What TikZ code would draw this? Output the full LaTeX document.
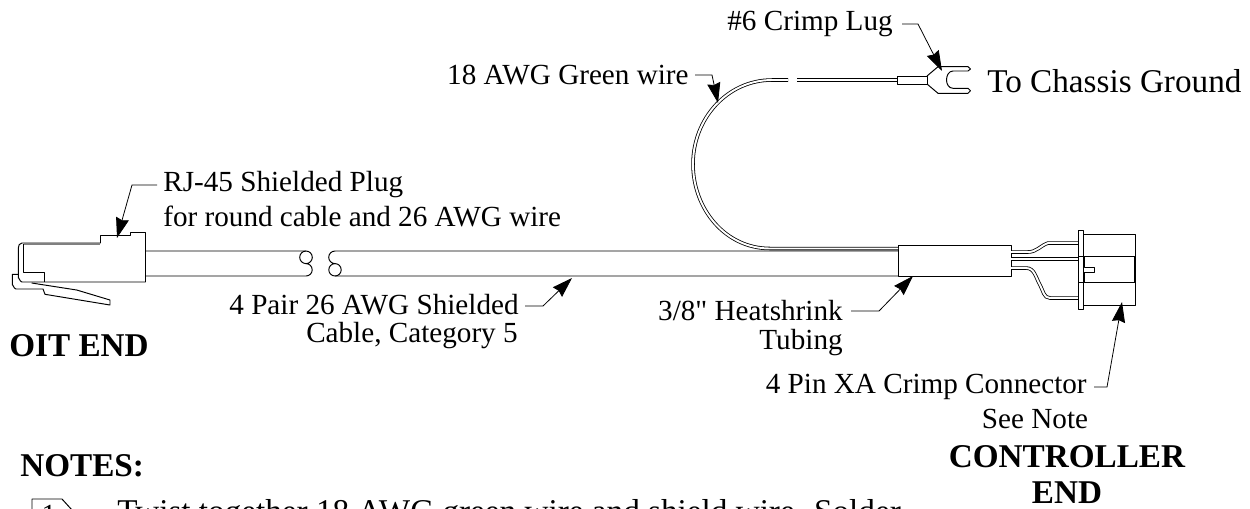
\documentclass[tikz,border=0pt]{standalone}
\usepackage{tikz}
\usepackage{fontspec}
\setmainfont{Liberation Serif}[Ligatures=TeXOff]
\usetikzlibrary{arrows.meta}

\tikzset{
    part/.style={draw, line width=0.55pt, line join=round},
    wirepair/.style={draw, line width=0.45pt, double, double distance=1.1pt},
    leader/.style={draw, line width=0.45pt, -{Stealth[length=11.5pt, width=7.5pt, inset=1pt]}},
    lbl/.style={inner sep=0pt, font=\fontsize{16.6pt}{18pt}\selectfont},
    biglbl/.style={inner sep=0pt, font=\fontsize{18.9pt}{20pt}\selectfont},
    bigtitle/.style={inner sep=0pt, font=\fontsize{18.9pt}{20pt}\selectfont\bfseries}
}

\begin{document}
\begin{tikzpicture}[x=0.02cm, y=-0.02cm]
        \useasboundingbox (0, 0) rectangle (1250, 508);
        \clip (0, 0) rectangle (1250, 508);

        % labels
        \node[lbl, anchor=east] (lug) at (893, 24) {\#6 Crimp Lug};
        \node[biglbl, anchor=west] (chassis) at (987, 81) {To Chassis Ground};
        \node[lbl, anchor=east] (green) at (689, 75) {18 AWG Green wire};
        \node[lbl, anchor=west] (plug) at (163, 185) {RJ-45 Shielded Plug};
        \node[lbl, anchor=west] (plugb) at (163, 216) {for round cable and 26 AWG wire};
        \node[lbl, anchor=east] (pair) at (519, 305) {4 Pair 26 AWG Shielded};
        \node[lbl, anchor=east] (cat) at (518, 336) {Cable, Category 5};
        \node[lbl, anchor=east] (shrink) at (843, 311) {3/8" Heatshrink};
        \node[lbl, anchor=east] (tubing) at (843, 343) {Tubing};
        \node[lbl, anchor=east] (xa) at (1087, 387) {4 Pin XA Crimp Connector};
        \node[lbl] (note) at (1035, 419) {See Note};
        \node[bigtitle, anchor=west] (oit) at (9, 346) {OIT END};
        \node[bigtitle, anchor=west] (notes) at (20, 466) {NOTES:};
        \node[bigtitle] (ctrl) at (1067, 457) {CONTROLLER};
        \node[bigtitle] (ctrlb) at (1067, 493) {END};
        \node[biglbl, anchor=base west] (twist) at (117, 522) {Twist together 18 AWG green wire and shield wire. Solder};

        % plug
        \draw[part] (22, 243) -- (100.5, 243) -- (100.5, 235.5) -- (130.5, 235.5) -- (130.5, 232.5)
            -- (145.5, 232.5) -- (145.5, 282) -- (22, 282)
            to[out=180, in=90] (18.3, 278) -- (18.3, 248) to[out=90, in=180] (22, 243);
        \draw[draw=gray, line width=1.1pt] (23.5, 244) -- (100, 244);
        \draw[part] (23.5, 244) -- (23.5, 272) -- (44.3, 272) -- (44.3, 282);
        \draw[part] (18.3, 274.3) -- (12.3, 274.3) -- (12.3, 285) to[out=90, in=180] (16, 289)
            -- (43, 289) -- (45, 294.3) -- (110, 305) -- (110, 300) -- (76.7, 290) -- (31.7, 283);

        % cable, left of the break
        \draw[part] (145.5, 251) -- (306, 251) arc[start angle=-90, end angle=90, radius=6.3]
            arc[start angle=-90, end angle=90, radius=6.2] -- (145.5, 276);
        \draw[part] (306, 263.6) arc[start angle=90, end angle=270, radius=6.3];

        % cable, right of the break
        \draw[part] (898, 251) -- (335, 251) arc[start angle=-90, end angle=-270, radius=6.3]
            arc[start angle=-90, end angle=-270, radius=6.2] -- (898, 276);
        \draw[part] (335, 263.6) arc[start angle=-90, end angle=90, radius=6.2];

        % heatshrink
        \draw[part] (898, 245) rectangle (1011, 276);

        % green wire
        \draw[wirepair] (898, 248.5) -- (770, 248.5) to[out=180, in=-90] (693, 164)
            to[out=90, in=180] (772, 80) -- (788, 80);
        \draw[wirepair] (797, 80) -- (897, 80);

        % lug
        \draw[part, fill=white] (897, 76.5) rectangle (927, 84);
        \draw[part] (927, 76) -- (938, 66.7) -- (968, 66.7) -- (970.5, 69) -- (968, 71) -- (953, 71)
            to[out=180, in=90] (946.5, 80) to[out=-90, in=180] (953, 88.3) -- (968, 88.3)
            -- (970.5, 90.7) -- (968, 93.3) -- (938, 93.3) -- (927, 84);

        % connector wires
        \draw[wirepair] (1011, 252) -- (1028, 252) to[out=0, in=200] (1048, 243) -- (1078, 243);
        \draw[wirepair] (1011, 259) -- (1078, 259);
        \draw[wirepair] (1011, 268) -- (1026, 268) to[out=0, in=120] (1040, 285) to[out=-60, in=180] (1050, 298) -- (1078, 298);

        % connector
        \draw[part] (1078, 230) rectangle (1083, 309);
        \draw[part] (1083, 234) rectangle (1135, 305);
        \draw[part] (1078, 256.7) -- (1135, 256.7);
        \draw[part] (1078, 282.7) -- (1135, 282.7);
        \draw[part] (1084, 256.7) -- (1084, 267.5) -- (1094.5, 267.5) -- (1094.5, 272.5) -- (1084, 272.5) -- (1084, 282.7);
        \draw[line width=1.1pt] (1135, 256.7) -- (1135, 282.7);

        % flag
        \draw[part] (32, 499) -- (62, 499) -- (72, 510) -- (62, 521) -- (32, 521) -- cycle;
        \node[lbl] (flag) at (49, 515) {1};

        % leaders
        \coordinate (lugbend) at (918, 24);
        \coordinate (lugtip) at (942, 71);
        \coordinate (greenbend) at (712, 75);
        \coordinate (greentip) at (718, 103);
        \coordinate (plugbend) at (132, 185);
        \coordinate (plugtip) at (117, 238);
        \coordinate (pairbend) at (543, 306);
        \coordinate (pairtip) at (572, 278);
        \coordinate (shrinkbend) at (879, 311);
        \coordinate (shrinktip) at (913, 276);
        \coordinate (xabend) at (1107, 387);
        \coordinate (xatip) at (1122, 302);

        \draw[leader] (lug.east) ++(9, 0) -- (lugbend) -- (lugtip);
        \draw[leader] (green.east) ++(6, 0) -- (greenbend) -- (greentip);
        \draw[leader] (plug.west) ++(-6, 0) -- (plugbend) -- (plugtip);
        \draw[leader] (pair.east) ++(6, 1) -- (pairbend) -- (pairtip);
        \draw[leader] (shrink.east) ++(8, 0) -- (shrinkbend) -- (shrinktip);
        \draw[leader] (xa.east) ++(7, 0) -- (xabend) -- (xatip);
    \end{tikzpicture}
\end{document}
